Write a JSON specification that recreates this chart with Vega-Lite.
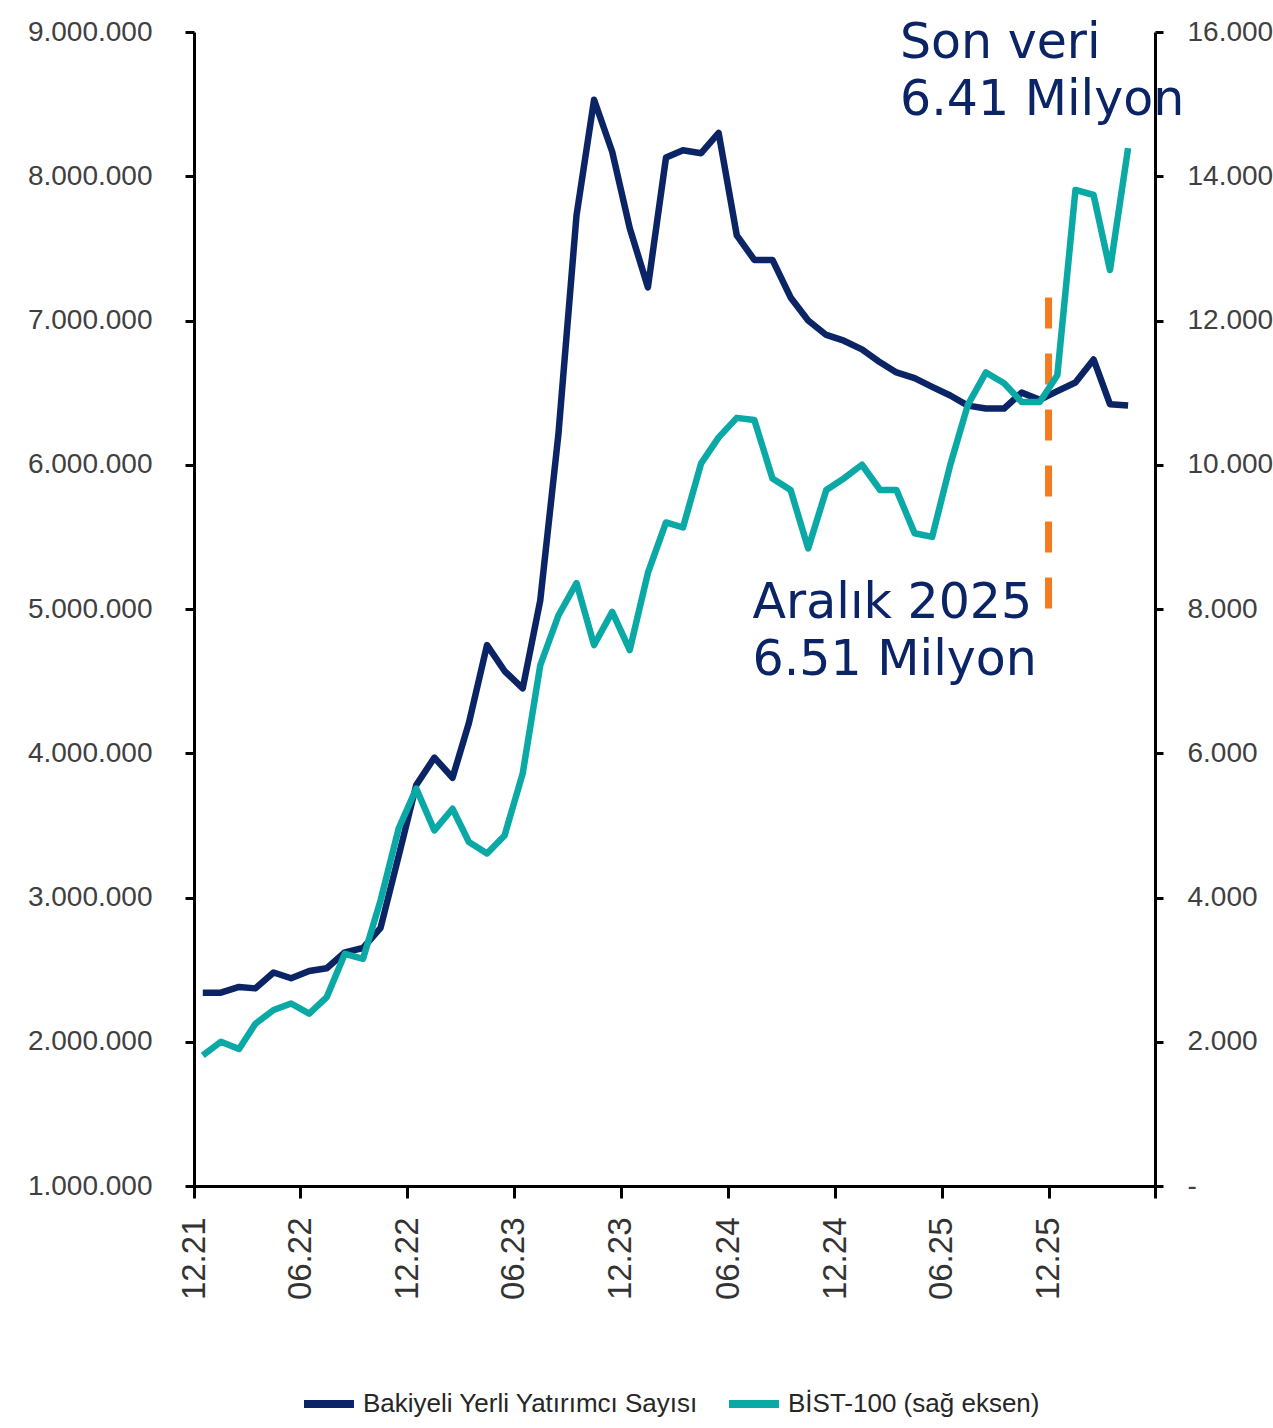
{
  "$schema": "https://vega.github.io/schema/vega-lite/v6.json",
  "width": 961,
  "height": 1154,
  "autosize": {"type": "none"},
  "padding": {"left": 194, "top": 32, "right": 118, "bottom": 242},
  "background": "white",
  "config": {
    "view": {"stroke": null},
    "locale": {"number": {"decimal": ",", "thousands": ".", "grouping": [3], "currency": ["", ""]}}
  },
  "datasets": {
    "main": [
      {"date": "2021/12/16", "investors": 2340000, "bist": 1810},
      {"date": "2022/01/16", "investors": 2340000, "bist": 2000},
      {"date": "2022/02/16", "investors": 2380000, "bist": 1900},
      {"date": "2022/03/16", "investors": 2370000, "bist": 2250},
      {"date": "2022/04/16", "investors": 2480000, "bist": 2440},
      {"date": "2022/05/16", "investors": 2440000, "bist": 2530},
      {"date": "2022/06/16", "investors": 2490000, "bist": 2390},
      {"date": "2022/07/16", "investors": 2510000, "bist": 2620},
      {"date": "2022/08/16", "investors": 2620000, "bist": 3220},
      {"date": "2022/09/16", "investors": 2650000, "bist": 3150},
      {"date": "2022/10/16", "investors": 2790000, "bist": 3960},
      {"date": "2022/11/16", "investors": 3290000, "bist": 4960},
      {"date": "2022/12/16", "investors": 3780000, "bist": 5510},
      {"date": "2023/01/16", "investors": 3970000, "bist": 4930},
      {"date": "2023/02/16", "investors": 3830000, "bist": 5230},
      {"date": "2023/03/16", "investors": 4210000, "bist": 4770},
      {"date": "2023/04/16", "investors": 4750000, "bist": 4610},
      {"date": "2023/05/16", "investors": 4570000, "bist": 4860},
      {"date": "2023/06/16", "investors": 4450000, "bist": 5720},
      {"date": "2023/07/16", "investors": 5060000, "bist": 7220},
      {"date": "2023/08/16", "investors": 6210000, "bist": 7910},
      {"date": "2023/09/16", "investors": 7730000, "bist": 8360},
      {"date": "2023/10/16", "investors": 8530000, "bist": 7500},
      {"date": "2023/11/16", "investors": 8170000, "bist": 7960},
      {"date": "2023/12/16", "investors": 7640000, "bist": 7430},
      {"date": "2024/01/16", "investors": 7230000, "bist": 8500},
      {"date": "2024/02/16", "investors": 8130000, "bist": 9200},
      {"date": "2024/03/16", "investors": 8180000, "bist": 9130},
      {"date": "2024/04/16", "investors": 8160000, "bist": 10020},
      {"date": "2024/05/16", "investors": 8300000, "bist": 10380},
      {"date": "2024/06/16", "investors": 7590000, "bist": 10650},
      {"date": "2024/07/16", "investors": 7420000, "bist": 10620},
      {"date": "2024/08/16", "investors": 7420000, "bist": 9810},
      {"date": "2024/09/16", "investors": 7160000, "bist": 9650},
      {"date": "2024/10/16", "investors": 7000000, "bist": 8840},
      {"date": "2024/11/16", "investors": 6900000, "bist": 9650},
      {"date": "2024/12/16", "investors": 6860000, "bist": 9810},
      {"date": "2025/01/16", "investors": 6800000, "bist": 10000},
      {"date": "2025/02/16", "investors": 6710000, "bist": 9650},
      {"date": "2025/03/16", "investors": 6640000, "bist": 9650},
      {"date": "2025/04/16", "investors": 6600000, "bist": 9050},
      {"date": "2025/05/16", "investors": 6540000, "bist": 9000},
      {"date": "2025/06/16", "investors": 6480000, "bist": 10000},
      {"date": "2025/07/16", "investors": 6410000, "bist": 10830},
      {"date": "2025/08/16", "investors": 6390000, "bist": 11280},
      {"date": "2025/09/16", "investors": 6390000, "bist": 11130},
      {"date": "2025/10/16", "investors": 6500000, "bist": 10870},
      {"date": "2025/11/16", "investors": 6450000, "bist": 10870},
      {"date": "2025/12/16", "investors": 6510000, "bist": 11240},
      {"date": "2026/01/16", "investors": 6570000, "bist": 13810},
      {"date": "2026/02/16", "investors": 6730000, "bist": 13740},
      {"date": "2026/03/16", "investors": 6420000, "bist": 12700},
      {"date": "2026/04/16", "investors": 6410000, "bist": 14390}
    ],
    "marker": [{"date": "2025/12/01", "from": 7160000, "to": 5000000}],
    "notes": [
      {"date": "2025/03/22", "value": 8820000, "lines": ["Son veri", "6.41 Milyon"]},
      {"date": "2024/07/13", "value": 4940000, "lines": ["Aralık 2025", "6.51 Milyon"]}
    ]
  },
  "encoding": {
    "x": {
      "field": "date",
      "type": "temporal",
      "scale": {"domain": [{"year": 2021, "month": 12, "date": 1}, {"year": 2026, "month": 6, "date": 1}]},
      "axis": {
        "title": null,
        "grid": false,
        "values": [
          {"year": 2021, "month": 12, "date": 1},
          {"year": 2022, "month": 6, "date": 1},
          {"year": 2022, "month": 12, "date": 1},
          {"year": 2023, "month": 6, "date": 1},
          {"year": 2023, "month": 12, "date": 1},
          {"year": 2024, "month": 6, "date": 1},
          {"year": 2024, "month": 12, "date": 1},
          {"year": 2025, "month": 6, "date": 1},
          {"year": 2025, "month": 12, "date": 1},
          {"year": 2026, "month": 6, "date": 1}
        ],
        "format": "%m.%y",
        "labelExpr": "year(datum.value) == 2026 ? '' : datum.label",
        "labelAngle": 270,
        "labelFont": "Liberation Sans",
        "labelFontSize": 33,
        "labelColor": "#333333",
        "labelPadding": 19,
        "labelFlush": false,
        "labelOverlap": false,
        "domainColor": "#000000",
        "domainWidth": 3,
        "tickColor": "#000000",
        "tickWidth": 3,
        "tickSize": 12
      }
    }
  },
  "layer": [
    {
      "layer": [
        {
          "data": {"name": "main"},
          "mark": {"type": "line", "strokeWidth": 6.5, "strokeJoin": "round"},
          "encoding": {
            "y": {
              "field": "investors",
              "type": "quantitative",
              "scale": {"domain": [1000000, 9000000], "nice": false, "zero": false},
              "axis": {
                "title": null,
                "grid": false,
                "values": [1000000, 2000000, 3000000, 4000000, 5000000, 6000000, 7000000, 8000000, 9000000],
                "format": ",d",
                "labelFont": "Liberation Sans",
                "labelFontSize": 28,
                "labelColor": "#404040",
                "labelPadding": 33,
                "domainColor": "#000000",
                "domainWidth": 3,
                "tickColor": "#000000",
                "tickWidth": 3,
                "tickSize": 9
              }
            },
            "color": {
              "datum": "Bakiyeli Yerli Yatırımcı Sayısı",
              "type": "nominal",
              "scale": {
                "domain": ["Bakiyeli Yerli Yatırımcı Sayısı", "BİST-100 (sağ eksen)"],
                "range": ["#0b2466", "#0aa9a6"]
              },
              "legend": {
                "title": null,
                "orient": "none",
                "legendX": 106,
                "legendY": 1343,
                "direction": "horizontal",
                "gridAlign": "none",
                "symbolType": "stroke",
                "symbolStrokeWidth": 8,
                "symbolSize": 2500,
                "labelFont": "Liberation Sans",
                "labelFontSize": 26,
                "labelColor": "#262626",
                "labelLimit": 600,
                "labelOffset": 5,
                "columnPadding": 14
              }
            }
          }
        },
        {
          "data": {"name": "marker"},
          "mark": {"type": "rule", "color": "#f47b20", "strokeWidth": 7, "strokeDash": [31, 25]},
          "encoding": {
            "y": {"field": "from", "type": "quantitative"},
            "y2": {"field": "to"}
          }
        },
        {
          "data": {"name": "notes"},
          "mark": {"type": "text", "font": "DejaVu Sans", "fontSize": 49, "color": "#0b2466", "align": "left", "baseline": "alphabetic", "lineHeight": 57},
          "encoding": {
            "y": {"field": "value", "type": "quantitative"},
            "text": {"field": "lines"}
          }
        }
      ]
    },
    {
      "data": {"name": "main"},
      "mark": {"type": "line", "strokeWidth": 6.5, "strokeJoin": "round"},
      "encoding": {
        "y": {
          "field": "bist",
          "type": "quantitative",
          "scale": {"domain": [0, 16000], "nice": false},
          "axis": {
            "orient": "right",
            "title": null,
            "grid": false,
            "values": [0, 2000, 4000, 6000, 8000, 10000, 12000, 14000, 16000],
            "format": ",d",
            "labelExpr": "datum.value == 0 ? '-' : datum.label",
            "labelFont": "Liberation Sans",
            "labelFontSize": 28,
            "labelColor": "#404040",
            "labelPadding": 24,
            "domainColor": "#000000",
            "domainWidth": 3,
            "tickColor": "#000000",
            "tickWidth": 3,
            "tickSize": 8
          }
        },
        "color": {"datum": "BİST-100 (sağ eksen)", "type": "nominal"}
      }
    }
  ],
  "resolve": {"scale": {"y": "independent"}}
}
